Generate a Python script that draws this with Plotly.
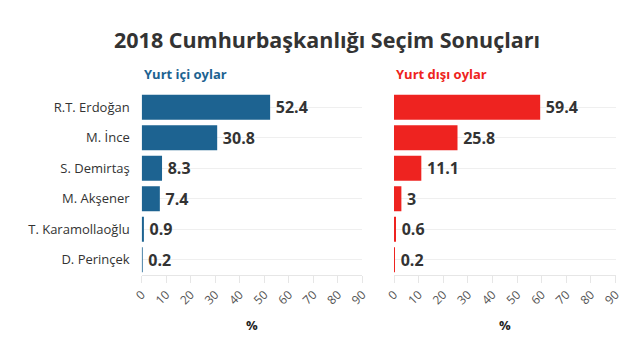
import plotly.graph_objects as go
from plotly.subplots import make_subplots

candidates = ["R.T. Erdoğan", "M. İnce", "S. Demirtaş", "M. Akşener", "T. Karamollaoğlu", "D. Perinçek"]
domestic = [52.4, 30.8, 8.3, 7.4, 0.9, 0.2]
abroad = [59.4, 25.8, 11.1, 3, 0.6, 0.2]
tick_vals = [0, 10, 20, 30, 40, 50, 60, 70, 80, 90]

BLUE = "#1d6391"
RED = "#ee2320"
FONT = "Open Sans"
W, H = 640, 342
L1, R1 = 141.7, 362.3
L2, R2 = 394.0, 615.5
top, bottom = 92, 275

fig = make_subplots(rows=1, cols=2)

for col, vals, color in [(1, domestic, BLUE), (2, abroad, RED)]:
    fig.add_trace(go.Bar(
        y=candidates, x=vals, orientation="h",
        marker=dict(color=color, line=dict(width=0)),
        width=0.82,
        text=["\u2009" + f"{v:g}" for v in vals], textposition="outside",
        textfont=dict(family=FONT, size=16, color="#333333", weight="bold"),
        cliponaxis=False, showlegend=False, hoverinfo="skip",
    ), row=1, col=col)

axis_common = dict(
    range=[0, 90], tickvals=tick_vals, tickangle=-45,
    tickfont=dict(family=FONT, size=12, color="#555555"),
    showgrid=False, zeroline=False,
    showline=True, linecolor="#e6e6e6", linewidth=1,
    ticks="outside", ticklen=7, tickcolor="#e6e6e6",
    fixedrange=True, automargin=False,
)
fig.update_xaxes(domain=[L1 / W, R1 / W], **axis_common, row=1, col=1)
fig.update_xaxes(domain=[L2 / W, R2 / W], **axis_common, row=1, col=2)

fig.update_yaxes(autorange="reversed", showgrid=True, gridcolor="#efefef", gridwidth=1,
                 zeroline=False, ticks="", ticklabelstandoff=11, automargin=False,
                 tickfont=dict(family=FONT, size=13, color="#333333"), row=1, col=1)
fig.update_yaxes(autorange="reversed", showgrid=True, gridcolor="#efefef", gridwidth=1,
                 zeroline=False, showticklabels=False, ticks="", automargin=False, row=1, col=2)

annos = [
    dict(text="<b>2018 Cumhurbaşkanlığı Seçim Sonuçları</b>", x=326.5 / W, y=40, font=dict(size=21.5, color="#333333"), xanchor="center"),
    dict(text="<b>Yurt içi oylar</b>", x=L1 / W, y=74, font=dict(size=13, color=BLUE), xanchor="left"),
    dict(text="<b>Yurt dışı oylar</b>", x=L2 / W, y=74, font=dict(size=13, color=RED), xanchor="left"),
    dict(text="<b>%</b>", x=(L1 + R1) / 2 / W, y=325, font=dict(size=13, color="#222222"), xanchor="center"),
    dict(text="<b>%</b>", x=(L2 + R2) / 2 / W, y=325, font=dict(size=13, color="#222222"), xanchor="center"),
]
for a in annos:
    ypix = a.pop("y")
    a["y"] = (bottom - ypix) / (bottom - top)
    a["font"]["family"] = FONT
    fig.add_annotation(xref="paper", yref="paper", yanchor="middle", showarrow=False, **a)

fig.update_layout(
    width=W, height=H,
    margin=dict(l=0, r=0, t=top, b=H - bottom),
    paper_bgcolor="white", plot_bgcolor="white",
    font=dict(family=FONT),
)

fig.write_html("out.html", config={"displayModeBar": False})
